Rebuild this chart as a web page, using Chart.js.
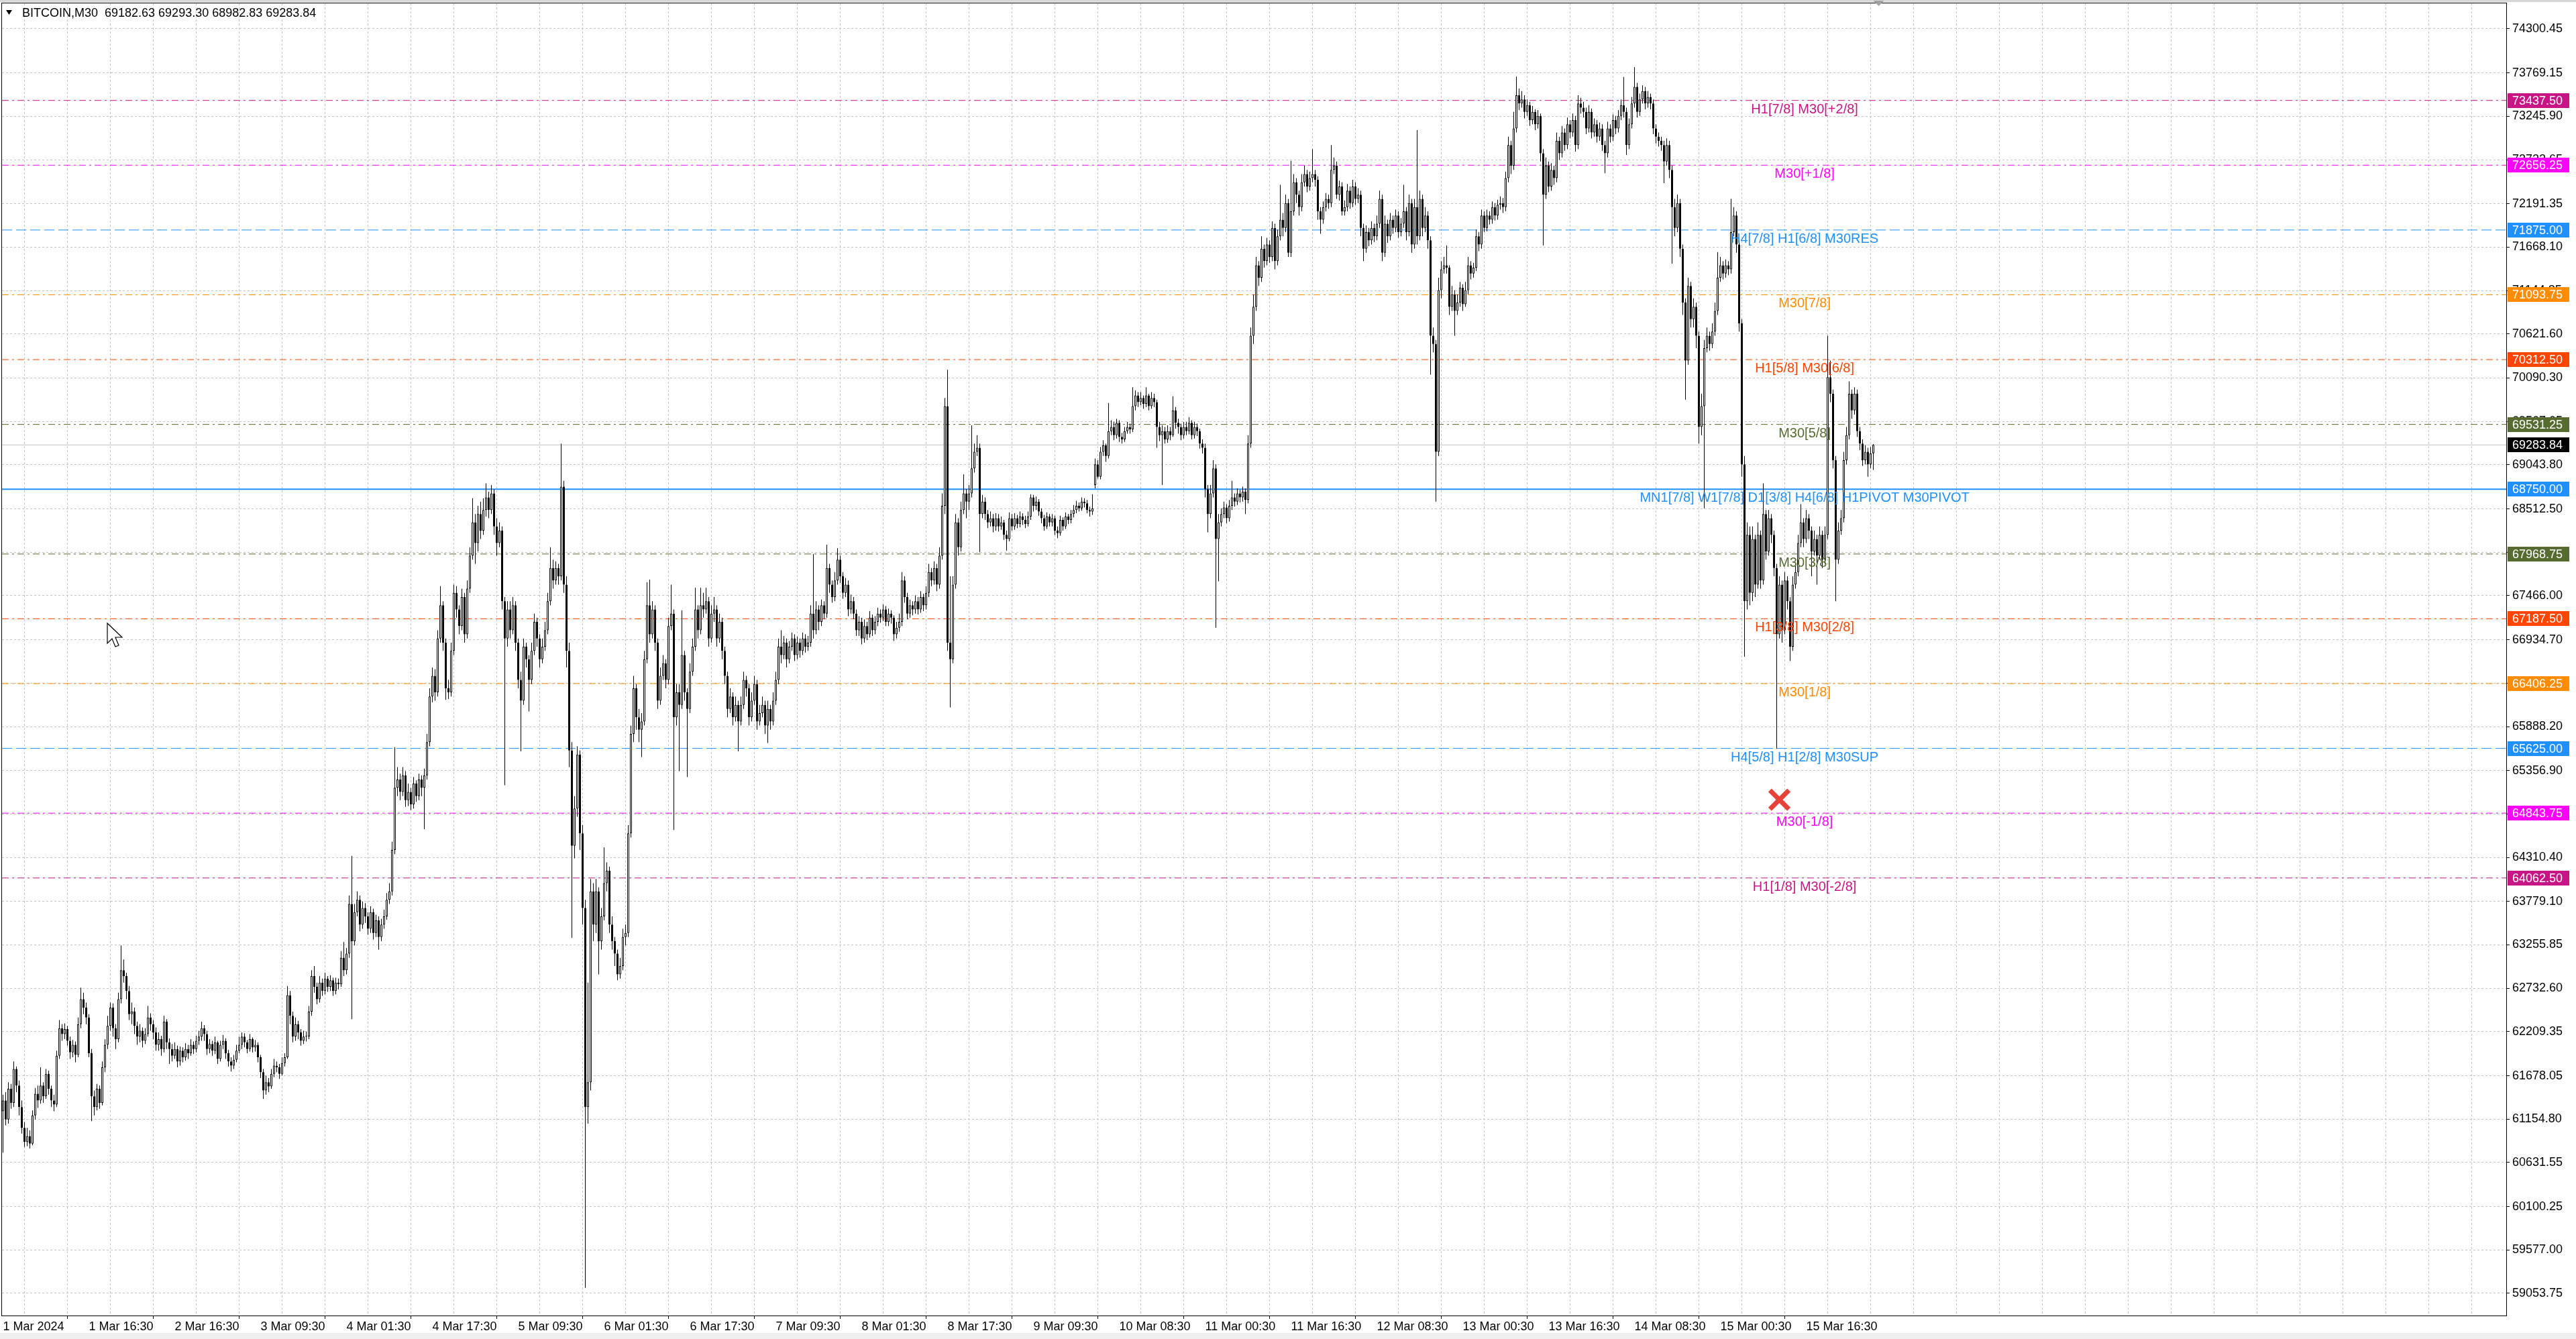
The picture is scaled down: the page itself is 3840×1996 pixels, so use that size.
<!DOCTYPE html>
<html>
<head>
<meta charset="utf-8">
<title>BITCOIN,M30</title>
<script src="https://cdn.jsdelivr.net/npm/chart.js@4.4.1/dist/chart.umd.min.js"></script>
<style>
  html, body { margin: 0; padding: 0; background: #fff; }
  #wrap { width: 3840px; height: 1996px; }
</style>
</head>
<body>
<div id="wrap"><canvas id="chart" width="3840" height="1996"></canvas></div>
<script>
// Chart data (M30 bars, BITCOIN 1-16 Mar 2024)
const symbol = 'BITCOIN,M30';

// time axis labels, one every 32 bars starting at bar 0
const timeLabels = ['1 Mar 2024', '1 Mar 16:30', '2 Mar 16:30', '3 Mar 09:30', '4 Mar 01:30', '4 Mar 17:30',
  '5 Mar 09:30', '6 Mar 01:30', '6 Mar 17:30', '7 Mar 09:30', '8 Mar 01:30', '8 Mar 17:30', '9 Mar 09:30',
  '10 Mar 08:30', '11 Mar 00:30', '11 Mar 16:30', '12 Mar 08:30', '13 Mar 00:30', '13 Mar 16:30',
  '14 Mar 08:30', '15 Mar 00:30', '15 Mar 16:30'];

const priceTicks = [74300.45, 73769.15, 73245.90, 72722.65, 72191.35, 71668.10, 71144.85, 70621.60, 70090.30,
  69567.05, 69043.80, 68512.50, 67989.25, 67466.00, 66934.70, 66411.45, 65888.20, 65356.90, 64833.65,
  64310.40, 63779.10, 63255.85, 62732.60, 62209.35, 61678.05, 61154.80, 60631.55, 60100.25, 59577.00, 59053.75];

const opens = [
  61250,61380,61150,61520,61350,61760,61560,61300,61050,60880,60950,60860,61200,61460,61380,61560,
  61430,61700,61520,61380,61330,61920,62250,62180,62240,62100,61960,62050,61930,62300,62600,62500,
  62380,61950,61430,61300,61520,61350,61780,62050,62280,62500,62250,62120,62600,62950,62880,62700,
  62420,62450,62280,62150,62220,62100,62180,62380,62300,62200,62050,62120,62000,62330,62080,62000,
  61920,62000,61850,61980,61900,62000,61950,62050,62000,62100,62150,62250,62180,62000,62060,61980,
  62080,61880,62050,62100,61950,61850,61800,61870,61980,62050,62150,62080,62000,62120,62020,62050,
  61900,61720,61500,61600,61550,61700,61800,61780,61700,61830,61900,62650,62400,62150,62300,62200,
  62100,62150,62150,62450,62880,62750,62600,62800,62700,62850,62750,62830,62700,62800,62780,63100,
  62950,63150,63750,63300,63650,63800,63500,63700,63600,63450,63650,63400,63550,63350,63500,63600,
  63800,63900,64400,65150,65250,65100,65300,65000,65100,64950,65200,65050,65250,65150,65300,65700,
  66250,66500,66300,66950,67350,66900,66350,66300,66800,67500,67300,67100,67450,67000,67550,67950,
  68350,68100,68450,68250,68500,68650,68500,68700,68300,68100,68250,67400,66950,67300,67050,67350,
  66900,66450,66200,66850,66700,66450,66800,67150,66950,66700,66850,67050,67400,67800,67650,67800,
  67700,68780,67600,66800,65600,64450,64900,65550,64600,63700,61300,61600,63900,63500,63900,63300,
  63600,64000,64150,63500,63300,63150,62900,63000,63350,63400,64600,65800,66350,66000,65850,65950,
  66700,67350,67000,67300,66900,66200,66500,66650,66450,67100,67250,66000,66300,66150,66750,66300,
  66100,66550,66850,67300,67050,67350,67300,67400,66950,67250,67300,66950,67150,66800,66500,66100,
  66250,66000,66150,65950,66150,66450,66350,66000,66200,66400,65950,66050,66150,65900,66100,65950,
  66200,66450,66850,66750,66900,66700,66850,66950,66750,66900,66800,66950,66850,66900,67250,67050,
  67300,67150,67350,67250,67800,67600,67450,67650,67900,67700,67500,67600,67300,67400,67250,67050,
  67150,66950,67100,67000,67200,67050,67150,67250,67200,67300,67150,67250,67200,67000,67080,67150,
  67650,67450,67250,67350,67300,67400,67300,67450,67350,67500,67750,67650,67800,67600,67950,68550,
  69750,66900,66700,67600,68350,68050,68500,68700,68600,68700,69000,69200,69250,68450,68600,68450,
  68350,68400,68300,68400,68300,68350,68200,68150,68400,68300,68400,68330,68420,68380,68330,68420,
  68650,68550,68600,68480,68400,68300,68420,68350,68400,68250,68220,68380,68300,68420,68380,68450,
  68500,68550,68520,68600,68580,68500,68480,68800,69050,68900,69200,69280,69150,69450,69500,69400,
  69550,69380,69350,69450,69500,69470,69750,69880,69800,69850,69780,69880,69750,69850,69800,69500,
  69400,69450,69350,69450,69400,69700,69550,69500,69400,69500,69450,69550,69400,69500,69450,69300,
  69250,68750,68450,68700,69000,68150,68350,68450,68530,68400,68550,68650,68600,68700,68650,68720,
  68620,69300,70600,70950,71450,71300,71650,71500,71700,71550,71900,71500,71800,72000,71900,72200,
  71600,72100,72450,72300,72150,72450,72550,72400,72500,72550,72480,72100,72000,72150,72250,72200,
  72600,72650,72300,72400,72100,72150,72350,72200,72400,72250,72300,71900,71650,71850,71750,71900,
  71800,71950,72250,71600,71950,71800,72000,71900,72050,71850,71950,72100,71850,72200,71700,72150,
  71800,72250,71900,72050,71750,70600,70500,69200,71150,71400,71450,71420,70950,71100,70900,71000,
  71180,70980,71150,71450,71350,71420,71800,71700,72050,71900,72050,72000,72150,72050,72180,72200,
  72150,72500,72900,72650,73100,73500,73400,73450,73300,73380,73200,73300,73150,73250,72800,72300,
  72650,72400,72600,72500,72950,72800,73050,72900,73150,73050,73200,72900,73400,73350,73300,73100,
  73300,73050,73150,73000,73100,72900,72800,73100,73000,73200,73100,73250,73380,73300,72900,73150,
  73400,73600,73300,73450,73550,73400,73480,73400,73100,73000,72950,72900,72700,72900,72600,72150,
  71900,72200,71650,71000,70300,71200,70800,70950,70600,69500,69750,70450,70600,70500,70650,70900,
  71300,71450,71350,71450,71400,71850,72050,71700,70750,69050,67400,68200,67500,68150,67600,68200,
  67650,68450,68000,68400,68200,67800,67000,67600,67050,67650,67400,66850,67600,67750,68100,68350,
  68150,68400,68250,68000,68150,67950,68200,67900,68200,70100,69900,69100,67900,68250,68400,69100,
  69400,69900,69700,69900,69450,69300,69100,69200,69050,69182.63
];

const highs = [
  61450,61480,61600,61580,61850,61790,61620,61380,61120,61050,61020,61260,61530,61560,61780,61600,
  61760,61740,61560,61450,61980,62350,62300,62310,62280,62150,62110,62090,62380,62740,62680,62560,
  62420,62000,61500,61580,61560,61850,62120,62400,62560,62550,62300,62680,63250,63080,62920,62760,
  62560,62500,62330,62300,62260,62250,62520,62430,62350,62260,62200,62160,62400,62360,62130,62060,
  62080,62040,62030,62020,62070,62050,62120,62090,62160,62220,62330,62290,62220,62120,62100,62150,
  62100,62100,62170,62130,61990,61900,61930,62050,62150,62200,62190,62110,62180,62140,62110,62080,
  61930,61760,61680,61650,61760,61880,61850,61820,61900,61950,62760,62700,62450,62380,62340,62240,
  62220,62210,62520,62950,63000,62800,62880,62850,62920,62880,62890,62860,62860,62850,63180,63290,
  63220,63850,64330,63750,63900,63850,63780,63760,63650,63720,63690,63620,63600,63570,63680,63880,
  64000,64500,65640,65400,65320,65400,65350,65200,65150,65280,65240,65320,65300,65380,65800,66350,
  66600,66580,67050,67580,67400,66950,66450,66900,67600,67580,67350,67550,67500,67650,68050,68640,
  68450,68550,68600,68640,68820,68720,68800,68750,68400,68350,68300,67450,67400,67400,67450,67400,
  66950,66550,66950,66900,66750,66900,67250,67200,67000,66950,67150,67500,68050,67900,67880,67850,
  69300,68850,67700,66900,65700,65050,65650,65600,64700,63800,62800,64050,64000,64050,63950,63700,
  64430,64250,64200,63600,63350,63200,63100,63450,63500,64700,65900,66500,66400,66100,66050,66800,
  67630,67660,67400,67350,66950,66600,66750,66700,67200,67600,67300,66400,66400,67290,66800,66350,
  66650,66950,67560,67350,67560,67500,67560,67450,67350,67450,67350,67250,67200,66850,66550,66350,
  66300,66250,66200,66250,66550,66500,66400,66300,66500,66450,66150,66250,66200,66200,66150,66300,
  66550,66950,67050,66980,66950,66920,67020,67000,66970,66950,67020,67000,66980,67350,67970,67400,
  67350,67420,67400,68080,67850,67650,67750,68040,67950,67750,67680,67650,67480,67450,67300,67220,
  67200,67180,67150,67280,67240,67220,67320,67300,67360,67340,67310,67290,67230,67150,67250,67750,
  67700,67500,67420,67400,67470,67450,67520,67490,67580,67850,67800,67880,67850,68050,68700,69850,
  70190,67700,67700,68450,68400,68600,68930,68750,68800,69520,69300,69400,69300,68680,68650,68500,
  68480,68450,68460,68450,68420,68380,68250,68470,68450,68460,68440,68480,68460,68430,68480,68690,
  68680,68660,68630,68520,68440,68470,68450,68450,68430,68300,68430,68410,68470,68450,68500,68560,
  68610,68590,68650,68640,68620,68540,68690,69120,69100,69260,69340,69300,69790,69580,69560,69600,
  69580,69430,69500,69560,69540,69980,69940,69920,69920,69880,69980,69900,69920,69900,69830,69560,
  69520,69500,69520,69500,69870,69740,69600,69540,69560,69560,69620,69580,69560,69540,69480,69350,
  69300,68800,68800,69100,69050,68450,68520,68600,68570,68620,68850,68700,68760,68740,68780,68760,
  69400,70700,71100,71550,71500,71800,71700,71780,71750,71980,71950,71880,72420,72080,72300,72250,
  72710,72550,72500,72350,72550,72650,72600,72580,72850,72600,72520,72150,72220,72320,72300,72900,
  72750,72700,72470,72450,72230,72430,72400,72480,72450,72380,72350,71950,71930,71900,71980,71950,
  72050,72350,72300,72050,72000,72080,72050,72120,72100,72020,72420,72150,72300,72250,72250,73080,
  72350,72300,72150,72100,71800,70700,70550,71300,71500,71550,71690,71450,71200,71150,71100,71250,
  71220,71250,71550,71500,71480,71880,71850,72120,72100,72120,72100,72220,72200,72240,72280,72260,
  72580,73000,72950,73300,73725,73580,73550,73500,73450,73420,73370,73330,73320,73280,72850,72750,
  72700,72680,72650,73050,73000,73130,73100,73230,73200,73280,73250,73500,73470,73420,73350,73380,
  73340,73220,73200,73170,73150,72950,73180,73150,73270,73250,73320,73450,73720,73350,73220,73480,
  73840,73650,73520,73620,73600,73550,73520,73450,73150,73050,73000,72950,72980,72950,72650,72250,
  72300,72250,71700,71050,71300,71250,71050,71000,70650,69900,70550,70700,70650,70750,71000,71610,
  71550,71500,71520,71500,72250,72150,72100,71750,70800,69150,68350,68300,68300,68200,68350,68250,
  68820,68500,68500,68450,68250,67850,67700,67650,67750,67700,67450,67700,67850,68200,68570,68400,
  68500,68450,68300,68250,68200,68300,68250,68300,70600,70300,69950,69150,68350,68500,69200,69500,
  70050,69950,69980,69950,69500,69350,69280,69250,69260,69293.30
];

const lows = [
  60750,61080,61100,61280,61300,61480,61200,60980,60820,60830,60800,60840,61150,61290,61340,61350,
  61400,61450,61300,61250,61300,61880,62100,62120,62040,61880,61900,61840,61900,62250,62420,62300,
  61900,61130,61200,61260,61280,61320,61720,62000,62220,62150,62000,62080,62550,62800,62600,62350,
  62300,62180,62050,62080,62020,62060,62150,62220,62120,61980,61980,61920,61960,62000,61820,61850,
  61880,61780,61800,61840,61860,61880,61920,61940,61960,62050,62100,62100,61930,61950,61920,61940,
  61820,61850,62000,61880,61790,61730,61760,61840,61950,62000,62020,61950,61970,61960,61970,61840,
  61650,61400,61450,61480,61520,61660,61720,61640,61680,61790,61880,62300,62080,62100,62120,62040,
  62060,62090,62120,62400,62680,62540,62560,62640,62660,62690,62700,62640,62660,62720,62750,62880,
  62900,63100,62360,63250,63600,63420,63450,63520,63380,63400,63320,63350,63200,63300,63450,63560,
  63750,63850,64350,65050,65000,65050,64920,64930,64880,64900,64980,65000,65050,64650,65250,65650,
  66180,66200,66250,66900,66800,66210,66220,66250,66750,67200,67000,67050,66900,66950,67500,67900,
  67850,68000,68150,68200,68420,68400,68450,68200,67950,68050,67300,65180,66850,66950,67000,66800,
  66350,65590,66150,66600,66070,66400,66750,66850,66600,66650,66800,67000,67350,67550,67600,67600,
  67650,67500,66600,65400,63340,64300,64800,64400,63500,59120,61100,61500,63300,63400,62900,63200,
  63550,63900,63400,63200,63000,62830,62850,62950,63250,63350,64550,65700,65850,65700,65520,65900,
  66650,66900,66950,66800,66100,66150,66450,66350,66400,67050,64640,65900,65350,66100,66200,65280,
  66050,66500,66800,66950,67000,67200,67250,66850,66900,67150,66850,66900,66700,66400,66000,66050,
  65900,65950,65590,65900,66100,66250,65900,65950,66150,65850,65900,66000,65800,65690,65850,65900,
  66150,66400,66650,66700,66600,66650,66800,66680,66700,66720,66750,66780,66800,66850,66950,67000,
  67050,67100,67180,67200,67500,67380,67400,67600,67620,67430,67450,67220,67250,67180,66980,66980,
  66880,66900,66930,66960,66980,67000,67100,67140,67160,67100,67100,67130,66920,66950,67030,67100,
  67380,67180,67200,67230,67250,67240,67260,67280,67300,67450,67580,67600,67520,67550,67900,68450,
  66800,66120,66650,67550,67950,68000,68450,68400,68500,68650,68950,69150,67990,68400,68380,68280,
  68300,68230,68250,68240,68260,68140,68010,68120,68250,68260,68280,68290,68320,68280,68300,68380,
  68480,68500,68430,68340,68250,68270,68300,68300,68200,68160,68190,68250,68270,68330,68340,68410,
  68460,68480,68490,68530,68460,68420,68440,68760,68880,68870,69150,69080,69120,69400,69340,69360,
  69320,69300,69320,69420,69420,69440,69700,69740,69760,69720,69740,69700,69720,69740,69250,69330,
  68800,69300,69310,69340,69380,69480,69420,69340,69360,69400,69410,69350,69360,69390,69240,69180,
  68650,68230,68400,68650,67080,67640,68300,68400,68340,68360,68500,68540,68560,68590,68600,68450,
  68580,69250,70500,70900,71200,71250,71420,71450,71480,71500,71400,71450,71750,71800,71850,71550,
  71550,72050,72200,72050,72100,72400,72330,72350,72450,72400,72000,71830,71950,72100,72130,72150,
  72550,72250,72230,72050,72050,72100,72130,72150,72180,72200,71800,71500,71600,71680,71700,71730,
  71750,71900,71500,71550,71720,71750,71830,71850,71780,71800,71900,71750,71800,71600,71650,71700,
  71750,71800,71850,71650,70130,70400,68600,69150,71050,71350,71350,70850,70900,70600,70850,70950,
  70900,70950,71100,71280,71300,71380,71620,71650,71850,71860,71940,71950,71990,72000,72120,72080,
  72100,72450,72550,72600,73050,73320,73350,73220,73250,73130,73150,73080,73100,72700,71690,72250,
  72330,72350,72420,72450,72720,72750,72830,72850,72980,73000,72820,72850,73280,73230,73030,73050,
  72980,73000,72930,72950,72830,72560,72750,72930,72950,73030,73050,73200,73230,72780,72850,73100,
  73350,73230,73250,73400,73330,73350,73330,73030,72920,72880,72830,72440,72650,72500,71470,71800,
  71850,71550,70850,69830,70250,70700,70700,70450,69300,69400,68520,70400,70420,70450,70600,70850,
  71250,71280,71300,71330,71350,71800,71600,70650,68900,66730,67300,67350,67400,67450,67550,67550,
  67600,67900,67950,68100,67700,65620,66950,66900,67000,67300,66680,66800,67550,67700,68050,68050,
  68100,68150,67700,67950,67600,67900,67800,67850,68150,69800,69000,67400,67850,68200,68350,69050,
  69350,69600,69650,69380,69220,69030,69050,68900,69000,68982.83
];

const closes = [
  61380,61150,61520,61350,61760,61560,61300,61050,60880,60950,60860,61200,61460,61380,61560,61430,
  61700,61520,61380,61330,61920,62250,62180,62240,62100,61960,62050,61930,62300,62600,62500,62380,
  61950,61430,61300,61520,61350,61780,62050,62280,62500,62250,62120,62600,62950,62880,62700,62420,
  62450,62280,62150,62220,62100,62180,62380,62300,62200,62050,62120,62000,62330,62080,62000,61920,
  62000,61850,61980,61900,62000,61950,62050,62000,62100,62150,62250,62180,62000,62060,61980,62080,
  61880,62050,62100,61950,61850,61800,61870,61980,62050,62150,62080,62000,62120,62020,62050,61900,
  61720,61500,61600,61550,61700,61800,61780,61700,61830,61900,62650,62400,62150,62300,62200,62100,
  62150,62150,62450,62880,62750,62600,62800,62700,62850,62750,62830,62700,62800,62780,63100,62950,
  63150,63750,63300,63650,63800,63500,63700,63600,63450,63650,63400,63550,63350,63500,63600,63800,
  63900,64400,65150,65250,65100,65300,65000,65100,64950,65200,65050,65250,65150,65300,65700,66250,
  66500,66300,66950,67350,66900,66350,66300,66800,67500,67300,67100,67450,67000,67550,67950,68350,
  68100,68450,68250,68500,68650,68500,68700,68300,68100,68250,67400,66950,67300,67050,67350,66900,
  66450,66200,66850,66700,66450,66800,67150,66950,66700,66850,67050,67400,67800,67650,67800,67700,
  68780,67600,66800,65600,64450,64900,65550,64600,63700,61300,61600,63900,63500,63900,63300,63600,
  64000,64150,63500,63300,63150,62900,63000,63350,63400,64600,65800,66350,66000,65850,65950,66700,
  67350,67000,67300,66900,66200,66500,66650,66450,67100,67250,66000,66300,66150,66750,66300,66100,
  66550,66850,67300,67050,67350,67300,67400,66950,67250,67300,66950,67150,66800,66500,66100,66250,
  66000,66150,65950,66150,66450,66350,66000,66200,66400,65950,66050,66150,65900,66100,65950,66200,
  66450,66850,66750,66900,66700,66850,66950,66750,66900,66800,66950,66850,66900,67250,67050,67300,
  67150,67350,67250,67800,67600,67450,67650,67900,67700,67500,67600,67300,67400,67250,67050,67150,
  66950,67100,67000,67200,67050,67150,67250,67200,67300,67150,67250,67200,67000,67080,67150,67650,
  67450,67250,67350,67300,67400,67300,67450,67350,67500,67750,67650,67800,67600,67950,68550,69750,
  66900,66700,67600,68350,68050,68500,68700,68600,68700,69000,69200,69250,68450,68600,68450,68350,
  68400,68300,68400,68300,68350,68200,68150,68400,68300,68400,68330,68420,68380,68330,68420,68650,
  68550,68600,68480,68400,68300,68420,68350,68400,68250,68220,68380,68300,68420,68380,68450,68500,
  68550,68520,68600,68580,68500,68480,68520,69050,68900,69200,69280,69150,69450,69500,69400,69550,
  69380,69350,69450,69500,69470,69750,69880,69800,69850,69780,69880,69750,69850,69800,69500,69400,
  69450,69350,69450,69400,69700,69550,69500,69400,69500,69450,69550,69400,69500,69450,69300,69250,
  68750,68450,68700,69000,68150,68350,68450,68530,68400,68550,68650,68600,68700,68650,68720,68620,
  69300,70600,70950,71450,71300,71650,71500,71700,71550,71900,71500,71800,72000,71900,72200,71600,
  72100,72450,72300,72150,72450,72550,72400,72500,72550,72480,72100,72000,72150,72250,72200,72600,
  72650,72300,72400,72100,72150,72350,72200,72400,72250,72300,71900,71650,71850,71750,71900,71800,
  71950,72250,71600,71950,71800,72000,71900,72050,71850,71950,72100,71850,72200,71700,72150,71800,
  72250,71900,72050,71750,70600,70500,69200,71150,71400,71450,71420,70950,71100,70900,71000,71180,
  70980,71150,71450,71350,71420,71800,71700,72050,71900,72050,72000,72150,72050,72180,72200,72150,
  72500,72900,72650,73100,73500,73400,73450,73300,73380,73200,73300,73150,73250,72800,72300,72650,
  72400,72600,72500,72950,72800,73050,72900,73150,73050,73200,72900,73400,73350,73300,73100,73300,
  73050,73150,73000,73100,72900,72800,73100,73000,73200,73100,73250,73380,73300,72900,73150,73400,
  73600,73300,73450,73550,73400,73480,73400,73100,73000,72950,72900,72700,72900,72600,72150,71900,
  72200,71650,71000,70300,71200,70800,70950,70600,69500,69750,70450,70600,70500,70650,70900,71300,
  71450,71350,71450,71400,71850,72050,71700,70750,69050,67400,68200,67500,68150,67600,68200,67650,
  68450,68000,68400,68200,67800,67000,67600,67050,67650,67400,66850,67600,67750,68100,68350,68150,
  68400,68250,68000,68150,67950,68200,67900,68200,70100,69900,69100,67900,68250,68400,69100,69400,
  69900,69700,69900,69450,69300,69100,69200,69050,69180,69283.84
];

// Murrey math levels drawn across the chart
const levelPrices = [73437.50, 72656.25, 71875.00, 71093.75, 70312.50, 69531.25, 68750.00,
  67968.75, 67187.50, 66406.25, 65625.00, 64843.75, 64062.50];
const levelNames = ['H1[7/8] M30[+2/8]', 'M30[+1/8]', 'H4[7/8] H1[6/8] M30RES', 'M30[7/8]',
  'H1[5/8] M30[6/8]', 'M30[5/8]', 'MN1[7/8] W1[7/8] D1[3/8] H4[6/8] H1PIVOT M30PIVOT', 'M30[3/8]',
  'H1[3/8] M30[2/8]', 'M30[1/8]', 'H4[5/8] H1[2/8] M30SUP', 'M30[-1/8]', 'H1[1/8] M30[-2/8]'];

// signal arrow (red cross) under the lows of 15 Mar
const signalBar = [662];
const signalPrice = [65006];

// ---- styles / layout ----
const DASHDOT = [10, 5, 3, 5];
const LONGDASH = [15, 6];
const levelColors = ['#c71585', '#ff00ff', '#1e90ff', '#ff8c00', '#ff4500', '#556b2f', '#1e90ff',
  '#556b2f', '#ff4500', '#ff8c00', '#1e90ff', '#ff00ff', '#c71585'];
const levelDash = [DASHDOT, DASHDOT, LONGDASH, DASHDOT, DASHDOT, DASHDOT, [], DASHDOT, DASHDOT,
  DASHDOT, LONGDASH, DASHDOT, DASHDOT];
const levelWidth = [1, 1, 1, 1, 1, 1, 2, 1, 1, 1, 1, 1, 1];

const X_MIN = -0.375;     // 4 px per bar, bar 0 at x = 4.5
const X_MAX = 932.875;
const Y_MIN = 58786.83;
const Y_MAX = 74607.81;
const LABEL_EVERY = 32;
const GRID_EVERY = 16;
const LEVEL_TEXT_BAR = 671.4;
const FONT = '"Liberation Sans", Arial, sans-serif';

const nBars = closes.length;
const lastBar = nBars - 1;
const barIdx = closes.map((_, i) => i);

// scales get no extra padding: the plot sits at fixed pixels like the terminal
function noPadding(axis) {
  axis.paddingLeft = 0;
  axis.paddingRight = 0;
  axis.paddingTop = 0;
  axis.paddingBottom = 0;
}

// ---- datasets ----
const levelSets = levelPrices.map((p, k) => ({
  type: 'line',
  data: [{ x: X_MIN, y: p }, { x: X_MAX, y: p }],
  borderColor: levelColors[k],
  borderWidth: levelWidth[k],
  borderDash: levelDash[k],
  pointRadius: 0,
  order: 10
}));

const bidLine = {
  type: 'line',
  data: [{ x: X_MIN, y: closes[lastBar] }, { x: X_MAX, y: closes[lastBar] }],
  borderColor: '#c0c0c0',
  borderWidth: 1,
  pointRadius: 0,
  order: 9
};

const wicks = {
  type: 'bar',
  data: barIdx.map(i => ({ x: i, y: [lows[i], highs[i]] })),
  backgroundColor: '#000',
  borderWidth: 0,
  barThickness: 1,
  grouped: false,
  inflateAmount: 0,
  order: 3
};

const bodies = {
  type: 'bar',
  data: barIdx.map(i => ({ x: i, y: [Math.min(opens[i], closes[i]), Math.max(opens[i], closes[i])] })),
  backgroundColor: barIdx.map(i => closes[i] >= opens[i] ? '#ffffff' : '#000000'),
  borderColor: '#000',
  borderWidth: 1,
  borderSkipped: false,
  barThickness: 3,
  minBarLength: 1,
  grouped: false,
  inflateAmount: 0,
  order: 2
};

const signal = {
  type: 'scatter',
  data: signalBar.map((b, k) => ({ x: b, y: signalPrice[k] })),
  pointStyle: 'crossRot',
  pointRadius: 20,
  pointBorderWidth: 7,
  pointBorderColor: '#e5433a',
  pointBackgroundColor: '#e5433a',
  order: 1
};

// ---- overlay: frame, level captions, price boxes, header ----
const mt4Overlay = {
  id: 'mt4Overlay',
  beforeDraw(chart) {
    const { ctx, width, height } = chart;
    ctx.save();
    ctx.fillStyle = '#ffffff';
    ctx.fillRect(0, 0, width, height);
    ctx.fillStyle = '#d6d6d6';
    ctx.fillRect(0, 0, width, 3);
    ctx.fillStyle = '#f0f0f0';
    ctx.fillRect(0, 1987, width, height - 1987);
    ctx.restore();
  },
  afterDatasetsDraw(chart) {
    const { ctx, scales: { x, y } } = chart;
    const tx = x.getPixelForValue(LEVEL_TEXT_BAR);
    ctx.save();
    ctx.font = '20px ' + FONT;
    ctx.textAlign = 'center';
    ctx.textBaseline = 'top';
    levelPrices.forEach((p, k) => {
      ctx.fillStyle = levelColors[k];
      ctx.fillText(levelNames[k], tx, Math.round(y.getPixelForValue(p)) + 3);
    });
    ctx.restore();
  },
  afterDraw(chart) {
    const { ctx, chartArea: ca, scales: { x, y } } = chart;
    ctx.save();

    // chart frame
    ctx.strokeStyle = '#000';
    ctx.lineWidth = 1;
    ctx.strokeRect(ca.left - 0.5, ca.top - 0.5, ca.right - ca.left + 1, ca.bottom - ca.top + 1);

    // price boxes on the right scale
    ctx.font = '18px ' + FONT;
    ctx.textAlign = 'left';
    ctx.textBaseline = 'middle';
    const box = (price, color) => {
      const py = Math.round(y.getPixelForValue(price));
      ctx.fillStyle = color;
      ctx.fillRect(ca.right + 2, py - 11, 92, 22);
      ctx.fillStyle = '#fff';
      ctx.fillText(price.toFixed(2), ca.right + 9, py + 1);
    };
    levelPrices.forEach((p, k) => box(p, levelColors[k]));
    box(closes[lastBar], '#000');

    // header
    ctx.fillStyle = '#000';
    ctx.beginPath();
    ctx.moveTo(9, 15); ctx.lineTo(18, 15); ctx.lineTo(13.5, 22);
    ctx.closePath();
    ctx.fill();
    ctx.font = '18px ' + FONT;
    ctx.textBaseline = 'middle';
    const hdr = symbol + '  ' + [opens[lastBar], highs[lastBar], lows[lastBar], closes[lastBar]]
      .map(v => v.toFixed(2)).join(' ');
    ctx.fillText(hdr, 33, 20);

    // chart shift marker at the top
    const sx = x.getPixelForValue(lastBar + 2);
    ctx.fillStyle = '#a0a0a0';
    ctx.beginPath();
    ctx.moveTo(sx - 8, 1); ctx.lineTo(sx + 8, 1); ctx.lineTo(sx, 9);
    ctx.closePath();
    ctx.fill();

    // mouse pointer
    ctx.translate(160, 929);
    ctx.beginPath();
    ctx.moveTo(0, 0); ctx.lineTo(0, 30); ctx.lineTo(7, 23); ctx.lineTo(12, 35);
    ctx.lineTo(17, 33); ctx.lineTo(12, 21); ctx.lineTo(22, 21);
    ctx.closePath();
    ctx.fillStyle = '#fff';
    ctx.fill();
    ctx.strokeStyle = '#000';
    ctx.lineWidth = 1.2;
    ctx.stroke();

    ctx.restore();
  }
};

new Chart(document.getElementById('chart'), {
  type: 'bar',
  data: { datasets: [...levelSets, bidLine, wicks, bodies, signal] },
  options: {
    responsive: false,
    animation: false,
    devicePixelRatio: 1,
    layout: { autoPadding: false, padding: { left: 3, top: 5, right: 0, bottom: 0 } },
    plugins: {
      legend: { display: false },
      tooltip: { enabled: false }
    },
    scales: {
      x: {
        type: 'linear',
        min: X_MIN,
        max: X_MAX,
        offset: false,
        afterBuildTicks: (axis) => {
          const t = [];
          for (let v = 0; v <= X_MAX; v += GRID_EVERY) t.push({ value: v });
          axis.ticks = t;
        },
        afterFit: (axis) => { axis.height = 35; noPadding(axis); },
        grid: {
          color: '#c4c4c4',
          tickLength: 5,
          tickColor: (c) => (c.tick && c.tick.value % LABEL_EVERY === 0 && c.tick.value / LABEL_EVERY < timeLabels.length) ? '#000' : 'rgba(0,0,0,0)'
        },
        border: { display: false, dash: [3, 3] },
        ticks: {
          autoSkip: false,
          maxRotation: 0,
          minRotation: 0,
          align: 'start',
          padding: 1,
          color: '#000',
          font: { family: FONT, size: 18 },
          callback: (v) => (v % LABEL_EVERY === 0 ? (timeLabels[v / LABEL_EVERY] || '') : '')
        }
      },
      y: {
        type: 'linear',
        position: 'right',
        min: Y_MIN,
        max: Y_MAX,
        afterBuildTicks: (axis) => { axis.ticks = priceTicks.map(v => ({ value: v })); },
        afterFit: (axis) => { axis.width = 104; noPadding(axis); },
        grid: { color: '#c4c4c4', tickLength: 5, tickColor: '#000' },
        border: { display: false, dash: [3, 3] },
        ticks: {
          padding: 4,
          color: '#000',
          font: { family: FONT, size: 18 },
          callback: (v) => v.toFixed(2)
        }
      }
    }
  },
  plugins: [mt4Overlay]
});
</script>
</body>
</html>
